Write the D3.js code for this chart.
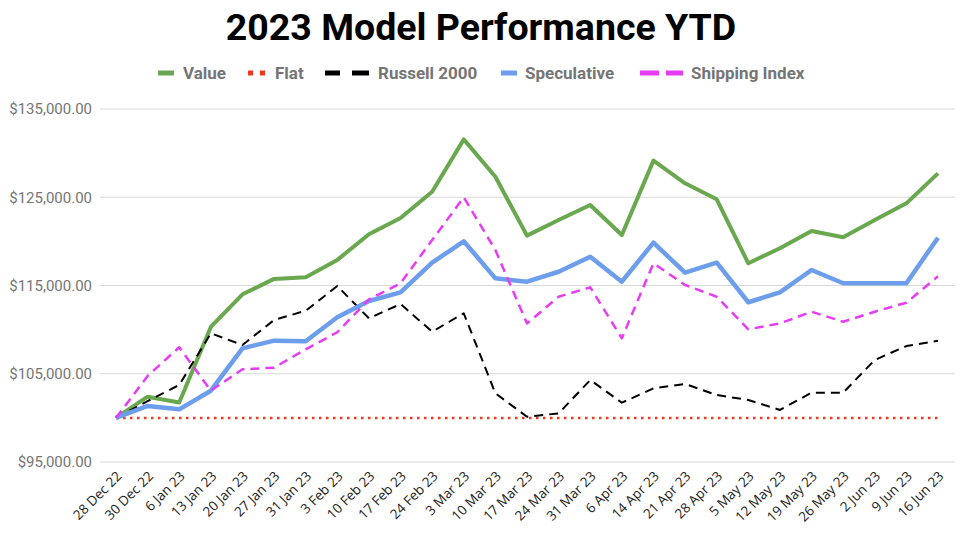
<!DOCTYPE html>
<html><head><meta charset="utf-8">
<script src="https://cdn.jsdelivr.net/npm/d3@7"></script>
<style>body{margin:0;background:#fff}svg{display:block}</style>
</head><body>
<svg id="c" width="968" height="536"></svg>
<script>
const dates = ["28 Dec 22","30 Dec 22","6 Jan 23","13 Jan 23","20 Jan 23","27 Jan 23","31 Jan 23","3 Feb 23","10 Feb 23","17 Feb 23","24 Feb 23","3 Mar 23","10 Mar 23","17 Mar 23","24 Mar 23","31 Mar 23","6 Apr 23","14 Apr 23","21 Apr 23","28 Apr 23","5 May 23","12 May 23","19 May 23","26 May 23","2 Jun 23","9 Jun 23","16 Jun 23"];
const valueSeries = [100000,102400,101750,110300,114000,115750,115930,117900,120800,122650,125630,131560,127330,120650,122420,124120,120720,129150,126580,124770,117520,119220,121180,120460,122420,124310,127710];
const flatSeries = dates.map(()=>100000);
const russellSeries = [100000,101900,103730,109580,108260,111090,112140,114940,111280,112900,109770,111850,102780,100130,100510,104290,101720,103350,103840,102590,102030,100900,102860,102860,106560,108140,108750];
const speculativeSeries = [100000,101350,100970,103080,107880,108750,108680,111400,113240,114230,117590,120010,115810,115430,116560,118260,115430,119850,116450,117590,113100,114230,116760,115250,115250,115250,120420];
const shippingSeries = [100000,104750,108000,103080,105500,105690,107770,109700,113430,115250,120160,124990,119020,110700,113730,114790,109020,117520,115060,113730,110040,110700,112030,110900,112030,113050,116050];
const yTicks = [95000,105000,115000,125000,135000];

const series = [
  {name:"Value", data:valueSeries, color:"#6aa84f", width:4, dash:null},
  {name:"Flat", data:flatSeries, color:"#f4361e", width:2.5, dash:"2.5,4.5"},
  {name:"Russell 2000", data:russellSeries, color:"#000000", width:2, dash:"9,6"},
  {name:"Speculative", data:speculativeSeries, color:"#6d9eeb", width:4.5, dash:null},
  {name:"Shipping Index", data:shippingSeries, color:"#e63cf5", width:2.5, dash:"9,6"}
];

const svg = d3.select("#c");
const x = d3.scalePoint().domain(dates).range([116, 938]);
const y = d3.scaleLinear().domain([95000,135000]).range([462, 109]);

svg.append("text").attr("x",481).attr("y",40).attr("text-anchor","middle")
  .attr("font-family","Roboto").attr("font-weight","bold").attr("font-size",37.5).attr("fill","#000")
  .text("2023 Model Performance YTD");

// grid
const yAxis = svg.append("g").attr("transform","translate(100,0)")
  .call(d3.axisLeft(y).tickValues(yTicks).tickSize(0).tickPadding(8).tickFormat(d=>"$"+d3.format(",.2f")(d)));
yAxis.select(".domain").remove();
yAxis.selectAll("text").attr("font-family","Roboto").attr("font-size",15).attr("fill","#757575");
svg.append("g").selectAll("line").data(yTicks).join("line")
  .attr("x1",100).attr("x2",955).attr("y1",d=>y(d)).attr("y2",d=>y(d))
  .attr("stroke","#d9d9d9").attr("stroke-width",1.2);

// x axis labels
const xAxis = svg.append("g").attr("transform","translate(0,462)")
  .call(d3.axisBottom(x).tickSize(0).tickPadding(0));
xAxis.select(".domain").remove();
xAxis.selectAll("text")
  .attr("font-family","Open Sans").attr("font-size",13.5).attr("fill","#222")
  .attr("text-anchor","end").attr("dy",0).attr("y",0)
  .attr("transform","translate(6,15) rotate(-45)");

const line = d3.line().x((d,i)=>x(dates[i])).y(d=>y(d));
series.forEach(s=>{
  svg.append("path").datum(s.data).attr("d",line).attr("fill","none")
    .attr("stroke",s.color).attr("stroke-width",s.width)
    .attr("stroke-dasharray",s.dash).attr("stroke-linejoin","round");
});

// legend
const legendPos = [
  {sx:158, tx:183, segs:[[0,16]]},
  {sx:248, tx:275, segs:[[0,5],[12,5]]},
  {sx:325, tx:378, segs:[[0,15],[27,17]]},
  {sx:501, tx:525, segs:[[0,16]]},
  {sx:640, tx:691, segs:[[0,19],[26,17]]}
];
const lg = svg.append("g");
series.forEach((s,i)=>{
  const p = legendPos[i];
  const yy = 73;
  p.segs.forEach(sg=>lg.append("rect").attr("x",p.sx+sg[0]).attr("y",yy-2.5).attr("width",sg[1]).attr("height",5).attr("fill",s.color));
  lg.append("text").attr("x",p.tx).attr("y",yy+6).attr("font-family","Roboto").attr("font-weight","bold")
    .attr("font-size",17).attr("fill","#757575").text(s.name);
});
</script>
</body></html>
